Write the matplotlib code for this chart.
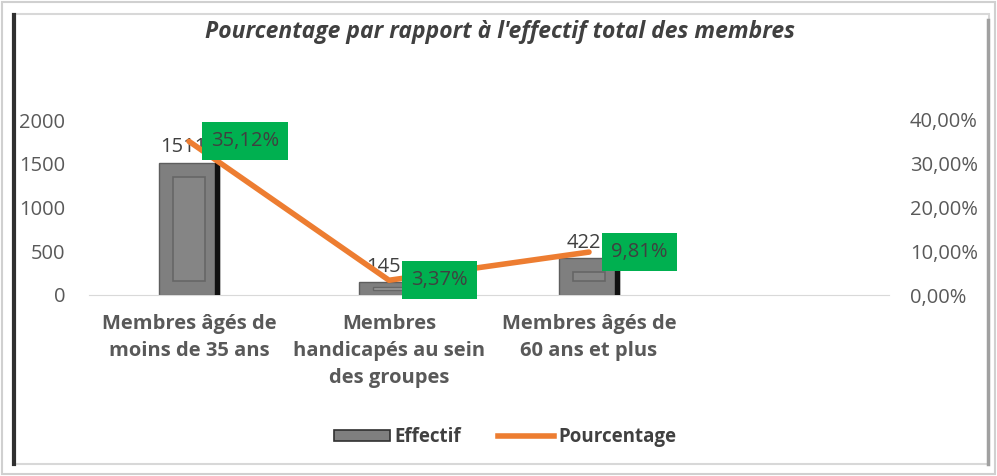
import matplotlib.pyplot as plt
from matplotlib.patches import Rectangle
from matplotlib.lines import Line2D
from matplotlib.ticker import FuncFormatter

categories = ["Membres âgés de\nmoins de 35 ans",
              "Membres\nhandicapés au sein\ndes groupes",
              "Membres âgés de\n60 ans et plus",
              ""]
effectif = [1511, 145, 422]
pourcentage = [35.12, 3.37, 9.81]
pct_labels = ["35,12%", "3,37%", "9,81%"]

plt.rcParams['font.family'] = ['Open Sans', 'DejaVu Sans']
txt = '#404040'
tick_col = '#595959'

fig = plt.figure(figsize=(9.97, 4.76), dpi=100)
W, H = 997, 476

def px(x0, y0, x1, y1, **kw):
    fig.patches.append(Rectangle((x0 / W, 1 - y1 / H), (x1 - x0) / W, (y1 - y0) / H,
                                 transform=fig.transFigure, fill=False, **kw))

# frame
px(2, 2, 995, 474, edgecolor='#d0d0d0', lw=1.5)
px(13, 14, 989, 464, edgecolor='#d8d8d8', lw=1.5)
fig.add_artist(Line2D([13.5 / W, 13.5 / W], [1 - 15 / H, 1 - 464 / H],
                      transform=fig.transFigure, color='#303030', lw=3))
fig.add_artist(Line2D([988 / W, 988 / W], [1 - 20 / H, 1 - 464 / H],
                      transform=fig.transFigure, color='#a0a0a0', lw=2.5))

ax = fig.add_axes([89 / W, 1 - 295 / H, 800 / W, 175 / H])
ax2 = ax.twinx()

x = list(range(len(categories)))
bw = 0.3
ax.set_xlim(-0.5, len(categories) - 0.5)
ax.set_ylim(0, 2000)
ax2.set_ylim(0, 40)

# bevelled bars
ax.bar(x[:3], effectif, width=bw, color='#7f7f7f', edgecolor='#5e5e5e',
       lw=1.0, zorder=2)
for xi, v in zip(x[:3], effectif):
    ax.add_patch(Rectangle((xi + bw / 2 - 0.022, 0), 0.022, v, color='#111111', zorder=3))
    ins_y = 14 / 175 * 2000
    if v > 2.5 * ins_y:
        ax.add_patch(Rectangle((xi - bw / 2 + 0.07, ins_y), bw - 0.14, v - 2 * ins_y,
                               facecolor='#858585', edgecolor='#666666', lw=1.2, zorder=3))
    else:
        ax.add_patch(Rectangle((xi - bw / 2 + 0.07, v * 0.4), bw - 0.14, v * 0.2,
                               facecolor='#9a9a9a', edgecolor='#666666', lw=1.0, zorder=3))
    ax.annotate(str(v), (xi, v), xytext=(-4, 4), textcoords='offset points',
                ha='center', va='bottom', fontsize=14.5, color=txt, zorder=4)

ax.set_zorder(1)
ax2.set_zorder(2)
ax.patch.set_visible(False)
ax2.plot(x[:3], pourcentage, color='#ED7D31', lw=4, solid_capstyle='round', zorder=3)
for xi, p, lab in zip(x[:3], pourcentage, pct_labels):
    ax2.annotate(lab, (xi, p), xytext=(16, 0), textcoords='offset points',
                 ha='left', va='center', fontsize=14.5, color=txt, zorder=5,
                 bbox=dict(boxstyle='square,pad=0.45', fc='#00B050', ec='none'))

ax.set_xticks(x)
ax.set_xticklabels(categories, fontsize=13.5, fontweight='bold', color=txt,
                   linespacing=1.45)
ax.set_yticks(range(0, 2001, 500))
ax2.set_yticks(range(0, 41, 10))
ax2.yaxis.set_major_formatter(FuncFormatter(lambda v, _: f"{v:.2f}%".replace('.', ',')))
for a in (ax, ax2):
    for s in a.spines.values():
        s.set_visible(False)
    a.tick_params(length=0, labelsize=14.5, labelcolor=tick_col)
ax.spines['bottom'].set_visible(True)
ax.spines['bottom'].set_color('#d9d9d9')
ax.tick_params(axis='y', pad=17)
ax.tick_params(axis='x', pad=14)
ax2.tick_params(axis='y', pad=15)

fig.text(500 / W, 1 - 32 / H, "Pourcentage par rapport à l'effectif total des membres",
         ha='center', va='center', fontsize=16.5, style='italic', fontweight='bold',
         color=txt)

handles = [Rectangle((0, 0), 1, 1, facecolor='#7f7f7f', edgecolor='#303030', lw=1.2),
           Line2D([], [], color='#ED7D31', lw=4)]
fig.legend(handles, ["Effectif", "Pourcentage"], loc='center', ncol=2,
           bbox_to_anchor=(505 / W, 1 - 437 / H), frameon=False,
           prop=dict(size=13.5, weight='bold'), labelcolor=txt,
           handlelength=3.0, handleheight=0.5, handletextpad=0.2, columnspacing=2.0)

fig.savefig('out.png', dpi=100)
